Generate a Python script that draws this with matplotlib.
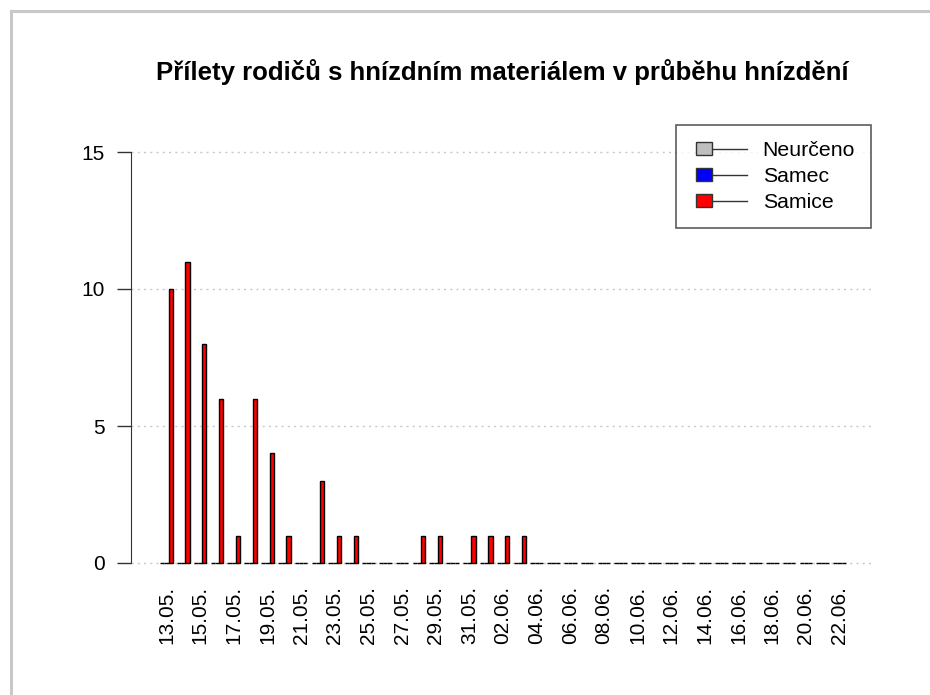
import matplotlib
matplotlib.use("Agg")
import matplotlib.pyplot as plt
from matplotlib.legend_handler import HandlerBase
from matplotlib.patches import Rectangle, Patch
from matplotlib.lines import Line2D
import datetime as dt

plt.rcParams['font.family'] = ['Liberation Sans', 'DejaVu Sans']

# ---- data ----
start = dt.date(2023, 5, 13)
days = [(start + dt.timedelta(days=i)).strftime("%d.%m.") for i in range(41)]
series_names = ["Neurčeno", "Samec", "Samice"]
series_colors = ["#bebebe", "#0000ff", "#ff0000"]
neurceno = [0] * 41
samec = [0] * 41
samice = [10, 11, 8, 6, 1, 6, 4, 1, 0, 3, 1, 1, 0, 0, 0, 1, 1, 0, 1, 1, 1, 1] + [0] * 19
title = "Přílety rodičů s hnízdním materiálem v průběhu hnízdění"
yticks = [0, 5, 10, 15]

W, H = 930, 695
fig = plt.figure(figsize=(W / 100, H / 100), dpi=100)

# axes geometry (pixels)
ax_left, ax_right = 131, 871
ax_top, ax_bottom = 124.6, 576.7
ax = fig.add_axes([ax_left / W, 1 - ax_bottom / H, (ax_right - ax_left) / W, (ax_bottom - ax_top) / H])

x = list(range(len(days)))
bw = 0.25
for k, (vals, col) in enumerate(zip([neurceno, samec, samice], series_colors)):
    ax.bar([xi + (k - 1) * bw for xi in x], vals, width=bw, color=col,
           edgecolor="black", linewidth=1.0, zorder=3)

ax.set_xlim(-2.11, 41.87)
ax.set_ylim(-0.5, 16.0)

for yv in yticks:
    ax.axhline(yv, color="#c8c8c8", linestyle=(0, (1.5, 3)), linewidth=1.0, zorder=1)

ax.set_yticks(yticks)
ax.set_yticklabels([str(v) for v in yticks], fontsize=15)
ax.tick_params(axis='y', length=10, width=1, pad=9, color="#333333")
ax.set_xticks(x[::2])
ax.set_xticklabels(days[::2], rotation=90, fontsize=15, va='top')
ax.tick_params(axis='x', length=0, pad=6.5)

for s in ["top", "right", "bottom"]:
    ax.spines[s].set_visible(False)
ax.spines["left"].set_bounds(0, 15)
ax.spines["left"].set_color("#333333")
ax.set_facecolor("none")

fig.text(502 / W, 1 - 72 / H, title, ha="center", va="center",
         fontsize=18.5, fontweight="bold")


class HandlerFillLine(HandlerBase):
    def create_artists(self, legend, orig_handle, xdescent, ydescent,
                       width, height, fontsize, trans):
        off, sw, sh = 2.6, 11.5, 9.5
        cy = -ydescent + height / 2
        x0 = -xdescent + off
        line = Line2D([x0 + sw / 2, -xdescent + width], [cy, cy],
                      color="#333333", linewidth=1.0, transform=trans)
        rect = Rectangle((x0, cy - sh / 2), sw, sh,
                         facecolor=orig_handle.get_facecolor(),
                         edgecolor="#333333", linewidth=1.0, transform=trans)
        return [line, rect]


handles = [Patch(facecolor=c) for c in series_colors]
leg = ax.legend(handles, series_names, handler_map={Patch: HandlerFillLine()},
                loc="upper right", bbox_to_anchor=(1.0, 1 - 0.4 / (ax_bottom - ax_top)),
                fontsize=15.35, frameon=True, fancybox=False, edgecolor="#333333",
                handlelength=2.57, handletextpad=0.73,
                labelspacing=0.33, borderpad=0.75, borderaxespad=0.0)
leg.get_frame().set_linewidth(1.2)

# outer light-gray frame (top and left edges)
fig.add_artist(Line2D([10.5 / W, 1], [1 - 10.5 / H, 1 - 10.5 / H], color="#c8c8c8",
                      linewidth=2.2, transform=fig.transFigure))
fig.add_artist(Line2D([10.5 / W, 10.5 / W], [0, 1 - 10.5 / H], color="#c8c8c8",
                      linewidth=2.2, transform=fig.transFigure))

fig.savefig("out.png", dpi=100)
